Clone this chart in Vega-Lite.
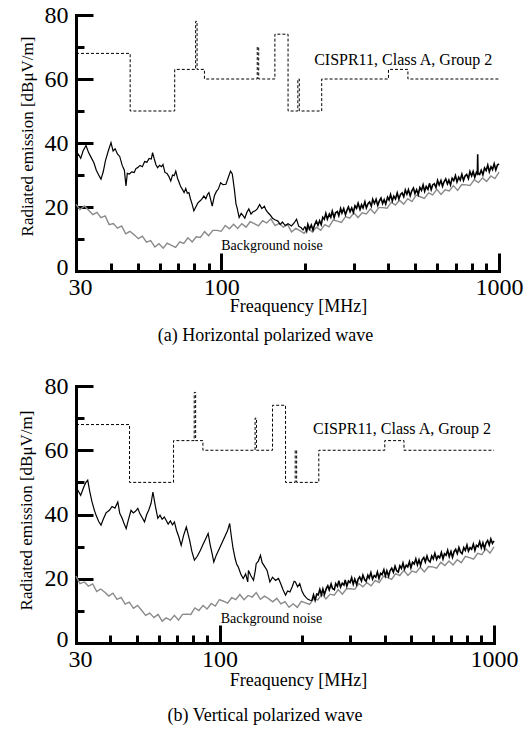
{
  "$schema": "https://vega.github.io/schema/vega-lite/v6.json",
  "padding": {"left": 16, "top": 3, "right": 5, "bottom": 5},
  "background": "white",
  "bounds": "flush",
  "spacing": 115,
  "config": {
    "view": {"stroke": null},
    "font": "Liberation Serif",
    "axis": {"grid": false, "labelFont": "Liberation Serif", "titleFont": "Liberation Serif", "labelColor": "black", "titleColor": "black", "tickColor": "black", "domainColor": "black", "titleFontWeight": "normal"},
    "title": {"font": "Liberation Serif", "fontWeight": "normal", "color": "black"}
  },
  "datasets": {
    "lim": [{"f":30,"v":68},{"f":47,"v":50},{"f":68,"v":63},{"f":80.872,"v":78},{"f":81.848,"v":63},{"f":87,"v":60},{"f":134.786,"v":70},{"f":136.414,"v":60},{"f":156,"v":74},{"f":174,"v":50},{"f":188.7,"v":60},{"f":190.979,"v":50},{"f":230,"v":60},{"f":400,"v":63},{"f":470,"v":60},{"f":1000,"v":60}],
    "ae_lo": [{"f":30,"v":35},{"f":30.6,"v":36.5},{"f":31.2,"v":35.2},{"f":31.8,"v":37.5},{"f":32.6,"v":39.2},{"f":33.3,"v":37},{"f":34,"v":35.5},{"f":34.8,"v":33.8},{"f":35.5,"v":31.5},{"f":36.2,"v":30},{"f":36.9,"v":28.7},{"f":37.6,"v":31},{"f":38.3,"v":34.5},{"f":39.2,"v":37.5},{"f":40.1,"v":40.1},{"f":40.8,"v":37.5},{"f":41.5,"v":38.2},{"f":42.3,"v":36.6},{"f":43.1,"v":35.8},{"f":44,"v":33},{"f":44.8,"v":31.5},{"f":45.4,"v":26.6},{"f":45.9,"v":30.5},{"f":46.7,"v":30.3},{"f":47.6,"v":31},{"f":48.6,"v":30.8},{"f":49.3,"v":32},{"f":50,"v":32.3},{"f":51,"v":33},{"f":52,"v":32.6},{"f":53,"v":34.2},{"f":54,"v":34},{"f":55,"v":35.2},{"f":56,"v":35},{"f":56.6,"v":37},{"f":57.4,"v":35},{"f":58.2,"v":33.2},{"f":59,"v":32.3},{"f":60,"v":33},{"f":61,"v":32.6},{"f":61.7,"v":33.3},{"f":62.7,"v":30.8},{"f":63.8,"v":30.5},{"f":64.8,"v":29.5},{"f":65.8,"v":28.1},{"f":66.8,"v":30},{"f":67.7,"v":29.8},{"f":68.6,"v":31.2},{"f":69.6,"v":29},{"f":70.6,"v":27.6},{"f":71.5,"v":26.3},{"f":72.5,"v":25.5},{"f":73.5,"v":24.5},{"f":74.5,"v":25.8},{"f":75.5,"v":24.3},{"f":76.5,"v":24.5},{"f":77.5,"v":22.5},{"f":78.6,"v":20.8},{"f":79.7,"v":18.8},{"f":81,"v":20},{"f":82.3,"v":21.2},{"f":83.6,"v":21.8},{"f":85,"v":22.4},{"f":86.6,"v":23.4},{"f":88,"v":22.6},{"f":89.3,"v":24},{"f":90.3,"v":24.5},{"f":91.5,"v":22.5},{"f":92.8,"v":20.3},{"f":94.5,"v":23.5},{"f":96,"v":24.8},{"f":97.6,"v":25.6},{"f":99.5,"v":27.6},{"f":101.5,"v":27},{"f":104,"v":27.1},{"f":106,"v":29.2},{"f":108,"v":31.2},{"f":109.6,"v":30.3},{"f":111.5,"v":25.5},{"f":113,"v":21},{"f":114,"v":19.8},{"f":116,"v":16.7},{"f":118,"v":18},{"f":120,"v":17.2},{"f":121.6,"v":16.5},{"f":123.5,"v":18.2},{"f":125.7,"v":19.4},{"f":128,"v":17.8},{"f":130,"v":18.5},{"f":132.6,"v":18.8},{"f":135,"v":19.5},{"f":137.5,"v":20.8},{"f":140,"v":19.5},{"f":143,"v":20.2},{"f":145,"v":19},{"f":147.5,"v":18.2},{"f":150,"v":17.5},{"f":153,"v":16.5},{"f":156,"v":16},{"f":160,"v":15.6},{"f":163,"v":14.5},{"f":166,"v":15.3},{"f":170,"v":14.2},{"f":174,"v":14.8},{"f":179,"v":14.1},{"f":183,"v":15},{"f":186.7,"v":16.2},{"f":190,"v":14},{"f":194,"v":13.5},{"f":197,"v":12.8},{"f":200,"v":13.9}],
    "ae_hi": [{"f":200,"v":13.9},{"f":203,"v":12.5},{"f":205,"v":14.6},{"f":208,"v":13.1},{"f":211,"v":14.4},{"f":214,"v":12.8},{"f":217,"v":14.5},{"f":220,"v":15.6},{"f":223,"v":14.3},{"f":226,"v":15.7},{"f":229,"v":14.5},{"f":232,"v":16.8},{"f":235,"v":16.2},{"f":238,"v":18},{"f":241,"v":16.2},{"f":245,"v":17.8},{"f":248,"v":16.8},{"f":251,"v":18.7},{"f":255,"v":16.7},{"f":258,"v":18.2},{"f":262,"v":18.6},{"f":265,"v":17.3},{"f":269,"v":19.5},{"f":272,"v":18.1},{"f":276,"v":19.5},{"f":280,"v":17.6},{"f":284,"v":19.1},{"f":287,"v":20},{"f":291,"v":18.5},{"f":295,"v":19.7},{"f":299,"v":18.3},{"f":303,"v":20.4},{"f":307,"v":19.6},{"f":311,"v":21.2},{"f":316,"v":19.2},{"f":320,"v":20.7},{"f":324,"v":19.7},{"f":329,"v":21.6},{"f":333,"v":19.7},{"f":338,"v":21.1},{"f":342,"v":21.6},{"f":347,"v":20.3},{"f":351,"v":22.4},{"f":356,"v":21.1},{"f":361,"v":22.4},{"f":366,"v":20.5},{"f":371,"v":21.9},{"f":376,"v":22.8},{"f":381,"v":21.1},{"f":386,"v":22.3},{"f":391,"v":20.9},{"f":397,"v":23.1},{"f":402,"v":22.2},{"f":407,"v":23.9},{"f":413,"v":21.9},{"f":418,"v":23.4},{"f":424,"v":22.5},{"f":430,"v":24.4},{"f":436,"v":22.5},{"f":442,"v":23.9},{"f":448,"v":24.4},{"f":454,"v":23.2},{"f":460,"v":25.3},{"f":466,"v":24},{"f":472,"v":25.4},{"f":479,"v":23.5},{"f":485,"v":25},{"f":492,"v":25.9},{"f":498,"v":24.2},{"f":505,"v":25.4},{"f":512,"v":23.9},{"f":519,"v":26.1},{"f":526,"v":25.2},{"f":533,"v":26.9},{"f":540,"v":24.9},{"f":547,"v":26.4},{"f":555,"v":25.5},{"f":562,"v":27.4},{"f":570,"v":25.4},{"f":577,"v":26.9},{"f":585,"v":27.3},{"f":593,"v":26.1},{"f":601,"v":28.3},{"f":609,"v":26.9},{"f":618,"v":28.3},{"f":626,"v":26.5},{"f":634,"v":27.9},{"f":643,"v":28.8},{"f":652,"v":27.2},{"f":660,"v":28.4},{"f":669,"v":26.9},{"f":678,"v":29},{"f":687,"v":28.2},{"f":697,"v":29.8},{"f":706,"v":27.8},{"f":716,"v":29.3},{"f":725,"v":28.4},{"f":735,"v":30.2},{"f":745,"v":28.3},{"f":755,"v":29.7},{"f":765,"v":30.2},{"f":776,"v":28.9},{"f":786,"v":31.1},{"f":797,"v":29.7},{"f":807,"v":31.1},{"f":818,"v":29.3},{"f":829,"v":30.8},{"f":836,"v":30.4},{"f":838,"v":36.5},{"f":840,"v":30.6},{"f":852,"v":30.2},{"f":863,"v":31.5},{"f":875,"v":30.1},{"f":887,"v":32.2},{"f":899,"v":31.4},{"f":911,"v":33.1},{"f":923,"v":31},{"f":936,"v":32.6},{"f":948,"v":31.7},{"f":961,"v":33.5},{"f":974,"v":31.6},{"f":987,"v":33.1},{"f":1000,"v":33.5}],
    "ag": [{"f":30,"v":20.8},{"f":31,"v":19.2},{"f":32.2,"v":20.3},{"f":33.3,"v":19},{"f":34.5,"v":17.6},{"f":35.7,"v":18.3},{"f":36.9,"v":16.7},{"f":38.2,"v":17.2},{"f":39.5,"v":14.5},{"f":40.9,"v":14.8},{"f":42.3,"v":13.4},{"f":43.8,"v":14.1},{"f":45.3,"v":11.6},{"f":46.9,"v":12.4},{"f":48.6,"v":11.3},{"f":50.3,"v":10.1},{"f":52,"v":10.9},{"f":53.8,"v":9},{"f":55.7,"v":9.5},{"f":57.7,"v":7.5},{"f":59.7,"v":8.5},{"f":61.8,"v":7.1},{"f":63.9,"v":8.7},{"f":66.2,"v":8},{"f":68.5,"v":7.4},{"f":70.9,"v":9.1},{"f":73.3,"v":8.6},{"f":75.9,"v":10.4},{"f":78.6,"v":9.1},{"f":81.3,"v":10.7},{"f":84.1,"v":10.5},{"f":87.1,"v":12.3},{"f":90.1,"v":11},{"f":93.3,"v":12.7},{"f":96.5,"v":12.7},{"f":99.9,"v":12.4},{"f":103.4,"v":14.2},{"f":107,"v":13.2},{"f":110.8,"v":14.6},{"f":114.6,"v":13.3},{"f":118.6,"v":14.8},{"f":122.8,"v":13.7},{"f":127.1,"v":15.4},{"f":131.5,"v":14.8},{"f":136.1,"v":14.1},{"f":140.9,"v":15.7},{"f":145.8,"v":15},{"f":150.9,"v":16.3},{"f":156.2,"v":14.2},{"f":161.7,"v":14.9},{"f":167.3,"v":13.7},{"f":173.2,"v":14.5},{"f":179.2,"v":12.2},{"f":185.5,"v":13.3},{"f":192,"v":12.6},{"f":198.7,"v":11.8},{"f":205.7,"v":13.3},{"f":212.9,"v":12.2},{"f":220.3,"v":13.7},{"f":228,"v":12.7},{"f":236,"v":14.5},{"f":244.3,"v":13.8},{"f":252.8,"v":15.9},{"f":261.7,"v":15.6},{"f":270.8,"v":15.2},{"f":280.3,"v":17},{"f":290.1,"v":16.5},{"f":300.3,"v":18.2},{"f":310.8,"v":16.7},{"f":321.6,"v":18.2},{"f":332.9,"v":17.8},{"f":344.5,"v":19.4},{"f":356.6,"v":18},{"f":369.1,"v":19.8},{"f":382,"v":19.8},{"f":395.4,"v":19.6},{"f":409.2,"v":21.5},{"f":423.5,"v":20.6},{"f":438.3,"v":22.1},{"f":453.7,"v":20.9},{"f":469.5,"v":22.6},{"f":486,"v":21.7},{"f":503,"v":23.7},{"f":520.6,"v":23.2},{"f":538.8,"v":22.7},{"f":557.7,"v":24.4},{"f":577.2,"v":23.8},{"f":597.4,"v":25.5},{"f":618.3,"v":23.9},{"f":639.9,"v":25.4},{"f":662.3,"v":25},{"f":685.5,"v":26.7},{"f":709.5,"v":25.2},{"f":734.3,"v":27},{"f":760,"v":26.9},{"f":786.6,"v":26.7},{"f":814.2,"v":28.5},{"f":842.6,"v":27.6},{"f":872.1,"v":29.1},{"f":902.6,"v":28},{"f":934.2,"v":29.7},{"f":966.9,"v":28.9},{"f":1000,"v":30.9}],
    "be_lo": [{"f":30,"v":45.5},{"f":30.5,"v":47.5},{"f":31.2,"v":46},{"f":32,"v":48.5},{"f":32.6,"v":50},{"f":33.1,"v":50.7},{"f":33.7,"v":47},{"f":34.3,"v":44},{"f":35,"v":41.3},{"f":35.6,"v":39.5},{"f":36.3,"v":37.8},{"f":37,"v":36.7},{"f":37.7,"v":38.5},{"f":38.6,"v":40.5},{"f":39.7,"v":41.3},{"f":40.6,"v":42.5},{"f":41.6,"v":42},{"f":42.6,"v":43.9},{"f":43.3,"v":40.4},{"f":44.1,"v":39},{"f":44.9,"v":37.2},{"f":45.7,"v":35.6},{"f":46.6,"v":38.5},{"f":47.6,"v":41.3},{"f":48.5,"v":40.5},{"f":49.4,"v":41},{"f":50.4,"v":41.9},{"f":51.3,"v":40.2},{"f":52.3,"v":39},{"f":53.3,"v":37.7},{"f":54.3,"v":40},{"f":55.3,"v":41.5},{"f":56.3,"v":43.5},{"f":57.2,"v":47},{"f":58.4,"v":42.5},{"f":59.6,"v":38.8},{"f":60.7,"v":39.8},{"f":61.8,"v":38.5},{"f":62.9,"v":39.2},{"f":63.9,"v":38.2},{"f":65,"v":37},{"f":66.2,"v":38},{"f":67.4,"v":36.8},{"f":68.5,"v":37.7},{"f":69.7,"v":35.1},{"f":71.1,"v":33},{"f":72.5,"v":30.4},{"f":74,"v":33.5},{"f":75.7,"v":36.1},{"f":76.8,"v":34},{"f":77.8,"v":32},{"f":79.3,"v":28.5},{"f":81,"v":25.8},{"f":83,"v":27},{"f":85.2,"v":28.9},{"f":87.2,"v":30.8},{"f":88.9,"v":32.3},{"f":90.9,"v":34.1},{"f":92.5,"v":30.5},{"f":93.9,"v":28},{"f":95.3,"v":25.2},{"f":97.5,"v":27.5},{"f":100,"v":29.5},{"f":102.5,"v":31.5},{"f":105,"v":33.5},{"f":107,"v":35},{"f":108.9,"v":37.2},{"f":110.5,"v":33},{"f":112,"v":29.5},{"f":114,"v":26.3},{"f":115.5,"v":24.5},{"f":117,"v":23.7},{"f":119.5,"v":21.5},{"f":122,"v":20.1},{"f":124.5,"v":21.5},{"f":126.7,"v":19},{"f":127.5,"v":22.6},{"f":130,"v":21},{"f":133,"v":19.5},{"f":135,"v":22.5},{"f":136,"v":24.7},{"f":138.5,"v":25.5},{"f":141,"v":27.3},{"f":143,"v":25},{"f":145.5,"v":24},{"f":149,"v":22.6},{"f":152.6,"v":19},{"f":156,"v":20.5},{"f":160,"v":19.5},{"f":164,"v":20.1},{"f":167,"v":18.5},{"f":170.5,"v":16.5},{"f":174,"v":14.9},{"f":177,"v":16.2},{"f":180.5,"v":15.9},{"f":184,"v":17.5},{"f":187,"v":19.2},{"f":189,"v":19},{"f":192.5,"v":17.5},{"f":196,"v":18.5},{"f":200,"v":16},{"f":203,"v":15},{"f":206,"v":14.3},{"f":210,"v":13.6},{"f":214,"v":13.3},{"f":217,"v":13.2}],
    "be_hi": [{"f":217,"v":13.2},{"f":220,"v":15},{"f":223,"v":13.3},{"f":226,"v":15.2},{"f":229,"v":15},{"f":232,"v":16.7},{"f":235,"v":15},{"f":238,"v":16.8},{"f":241,"v":15.1},{"f":245,"v":17},{"f":248,"v":17.8},{"f":251,"v":16.5},{"f":255,"v":18.4},{"f":258,"v":17},{"f":262,"v":16.6},{"f":265,"v":18.5},{"f":269,"v":17.6},{"f":272,"v":19.4},{"f":276,"v":17.4},{"f":280,"v":18.6},{"f":284,"v":18},{"f":287,"v":19.6},{"f":291,"v":17.7},{"f":295,"v":19.3},{"f":299,"v":18.8},{"f":303,"v":20.3},{"f":307,"v":18.3},{"f":311,"v":19.9},{"f":316,"v":18.2},{"f":320,"v":19.9},{"f":324,"v":20.6},{"f":329,"v":19.3},{"f":333,"v":21.1},{"f":338,"v":19.7},{"f":342,"v":19.2},{"f":347,"v":21.1},{"f":351,"v":20.2},{"f":356,"v":21.9},{"f":361,"v":19.9},{"f":366,"v":21},{"f":371,"v":20.5},{"f":376,"v":22.1},{"f":381,"v":20.1},{"f":386,"v":21.7},{"f":391,"v":21.3},{"f":397,"v":22.8},{"f":402,"v":20.9},{"f":407,"v":22.5},{"f":413,"v":20.8},{"f":418,"v":22.5},{"f":424,"v":23.3},{"f":430,"v":22},{"f":436,"v":23.9},{"f":442,"v":22.5},{"f":448,"v":22.1},{"f":454,"v":24},{"f":460,"v":23.2},{"f":466,"v":24.9},{"f":472,"v":23},{"f":479,"v":24.2},{"f":485,"v":23.7},{"f":492,"v":25.3},{"f":498,"v":23.4},{"f":505,"v":25.1},{"f":512,"v":24.6},{"f":519,"v":26.2},{"f":526,"v":24.3},{"f":533,"v":25.9},{"f":540,"v":24.2},{"f":547,"v":25.9},{"f":555,"v":26.6},{"f":562,"v":25.2},{"f":570,"v":27.1},{"f":577,"v":25.7},{"f":585,"v":25.2},{"f":593,"v":27.1},{"f":601,"v":26.2},{"f":609,"v":27.9},{"f":618,"v":26},{"f":626,"v":27.1},{"f":634,"v":26.5},{"f":643,"v":28.2},{"f":652,"v":26.2},{"f":660,"v":27.8},{"f":669,"v":27.3},{"f":678,"v":28.9},{"f":687,"v":26.9},{"f":697,"v":28.5},{"f":706,"v":26.7},{"f":716,"v":28.5},{"f":725,"v":29.2},{"f":735,"v":27.8},{"f":745,"v":29.7},{"f":755,"v":28.3},{"f":765,"v":27.8},{"f":776,"v":29.7},{"f":786,"v":28.8},{"f":797,"v":30.5},{"f":807,"v":28.6},{"f":818,"v":29.7},{"f":829,"v":29.2},{"f":841,"v":30.8},{"f":852,"v":28.8},{"f":863,"v":30.4},{"f":875,"v":30},{"f":887,"v":31.5},{"f":899,"v":29.6},{"f":911,"v":31.2},{"f":923,"v":29.4},{"f":936,"v":31.2},{"f":948,"v":31.9},{"f":961,"v":30.5},{"f":974,"v":32.4},{"f":987,"v":31},{"f":1000,"v":31.8}],
    "bg": [{"f":30,"v":20.8},{"f":31,"v":18.5},{"f":32.2,"v":19},{"f":33.3,"v":17.7},{"f":34.5,"v":18.4},{"f":35.7,"v":16},{"f":36.9,"v":16.8},{"f":38.2,"v":15.8},{"f":39.5,"v":14.6},{"f":40.9,"v":15.5},{"f":42.3,"v":13.6},{"f":43.8,"v":14.2},{"f":45.3,"v":12.1},{"f":46.9,"v":12.7},{"f":48.6,"v":10.8},{"f":50.3,"v":11.7},{"f":52,"v":10.2},{"f":53.8,"v":8.6},{"f":55.7,"v":9.3},{"f":57.7,"v":7.9},{"f":59.7,"v":8.9},{"f":61.8,"v":6.8},{"f":63.9,"v":7.8},{"f":66.2,"v":7.1},{"f":68.5,"v":8.6},{"f":70.9,"v":7.1},{"f":73.3,"v":8.9},{"f":75.9,"v":9},{"f":78.6,"v":8.9},{"f":81.3,"v":10.9},{"f":84.1,"v":10.1},{"f":87.1,"v":11.7},{"f":90.1,"v":10.6},{"f":93.3,"v":12.3},{"f":96.5,"v":11.5},{"f":99.9,"v":13.5},{"f":103.4,"v":13},{"f":107,"v":12.4},{"f":110.8,"v":14.1},{"f":114.6,"v":13.5},{"f":118.6,"v":15.1},{"f":122.8,"v":13.5},{"f":127.1,"v":14.8},{"f":131.5,"v":14.3},{"f":136.1,"v":15.7},{"f":140.9,"v":13.6},{"f":145.8,"v":14.6},{"f":150.9,"v":13.8},{"f":156.2,"v":12.8},{"f":161.7,"v":13.9},{"f":167.3,"v":12.2},{"f":173.2,"v":12.9},{"f":179.2,"v":11.1},{"f":185.5,"v":12.2},{"f":192,"v":11.1},{"f":198.7,"v":13},{"f":205.7,"v":12.5},{"f":212.9,"v":12},{"f":220.3,"v":13.8},{"f":228,"v":13.4},{"f":236,"v":15.2},{"f":244.3,"v":13.7},{"f":252.8,"v":15.2},{"f":261.7,"v":14.9},{"f":270.8,"v":16.6},{"f":280.3,"v":15.2},{"f":290.1,"v":16.9},{"f":300.3,"v":16.9},{"f":310.8,"v":16.7},{"f":321.6,"v":18.5},{"f":332.9,"v":17.5},{"f":344.5,"v":18.8},{"f":356.6,"v":17.8},{"f":369.1,"v":19.5},{"f":382,"v":18.8},{"f":395.4,"v":20.8},{"f":409.2,"v":20.4},{"f":423.5,"v":19.8},{"f":438.3,"v":21.6},{"f":453.7,"v":21},{"f":469.5,"v":22.6},{"f":486,"v":21},{"f":503,"v":22.4},{"f":520.6,"v":22},{"f":538.8,"v":23.6},{"f":557.7,"v":22.1},{"f":577.2,"v":23.8},{"f":597.4,"v":23.7},{"f":618.3,"v":23.3},{"f":639.9,"v":25.1},{"f":662.3,"v":24.1},{"f":685.5,"v":25.5},{"f":709.5,"v":24.3},{"f":734.3,"v":25.9},{"f":760,"v":25},{"f":786.6,"v":27},{"f":814.2,"v":26.6},{"f":842.6,"v":26.1},{"f":872.1,"v":27.9},{"f":902.6,"v":27.5},{"f":934.2,"v":29.3},{"f":966.9,"v":28},{"f":1000,"v":29.9}]
  },
  "vconcat": [
    {
      "width": 423,
      "height": 256,
      "title": {"text": "(a) Horizontal polarized wave", "orient": "bottom", "fontSize": 18, "fontWeight": "normal", "font": "Liberation Serif", "color": "black", "dx": -22, "offset": 12},
      "resolve": {"axis": {"x": "independent", "y": "independent"}},
      "layer": [
        {
          "data": {"name": "lim"},
          "mark": {"type": "line", "interpolate": "step-after", "strokeDash": [3, 2], "strokeWidth": 1, "color": "black"},
          "encoding": {
            "x": {"field": "f", "type": "quantitative", "scale": {"type": "log", "domain": [30, 1000], "nice": false},
                  "axis": {"orient": "bottom", "values": [30, 100, 1000], "format": "d", "ticks": false, "domainWidth": 3, "domainCap": "square", "labelFontSize": 24, "labelPadding": 4, "labelFlush": false, "labelOverlap": false, "labelOffset": {"condition": {"test": "datum.value === 30", "value": 4}, "value": 0}, "title": "Freaquency [MHz]", "titleFontSize": 18, "titleX": 222, "titleY": 35, "titleAlign": "center", "titleBaseline": "middle"}},
            "y": {"field": "v", "type": "quantitative", "scale": {"domain": [0, 80], "nice": false},
                  "axis": {"orient": "left", "values": [0, 20, 40, 60, 80], "ticks": false, "domainWidth": 3, "domainCap": "square", "labelFontSize": 24, "labelPadding": 8, "labelFlush": false, "labelOverlap": false, "labelOffset": {"condition": {"test": "datum.value === 0", "value": -4}, "value": 0}, "title": "Radiated emission [dBμV/m]", "titleFontSize": 17, "titleX": -49, "titleY": 121, "titleAngle": 270, "titleAlign": "center", "titleBaseline": "middle"}}
          }
        },
        {
          "data": {"name": "ag"},
          "mark": {"type": "line", "color": "#8a8a8a", "strokeWidth": 1.4},
          "encoding": {
            "x": {"field": "f", "type": "quantitative", "axis": {"orient": "bottom", "values": [40, 50, 60, 70, 80, 90, 200, 300, 400, 500, 600, 700, 800, 900], "domain": false, "labels": false, "title": null, "tickSize": -8, "tickWidth": 3}},
            "y": {"field": "v", "type": "quantitative", "axis": {"orient": "left", "values": [10, 30, 50, 70], "domain": false, "labels": false, "title": null, "tickSize": -8, "tickWidth": 3}}
          }
        },
        {
          "data": {"name": "ae_lo"},
          "mark": {"type": "line", "color": "black", "strokeWidth": 1.2},
          "encoding": {
            "x": {"field": "f", "type": "quantitative", "axis": {"orient": "bottom", "values": [100, 1000], "domain": false, "labels": false, "title": null, "tickSize": -18, "tickWidth": 3}},
            "y": {"field": "v", "type": "quantitative", "axis": {"orient": "left", "values": [20, 40, 60, 80], "domain": false, "labels": false, "title": null, "tickSize": -17, "tickWidth": 3}}
          }
        },
        {
          "data": {"name": "ae_hi"},
          "mark": {"type": "line", "color": "black", "strokeWidth": 1.6},
          "encoding": {
            "x": {"field": "f", "type": "quantitative", "axis": null},
            "y": {"field": "v", "type": "quantitative", "axis": null}
          }
        },
        {
          "data": {"values": [{}]},
          "mark": {"type": "text", "align": "left", "baseline": "middle", "fontSize": 16, "font": "Liberation Serif", "color": "black"},
          "encoding": {
            "x": {"datum": 216, "type": "quantitative", "axis": null},
            "y": {"datum": 66, "type": "quantitative", "axis": null},
            "text": {"value": "CISPR11, Class A, Group 2"}
          }
        },
        {
          "data": {"values": [{}]},
          "mark": {"type": "text", "align": "left", "baseline": "middle", "fontSize": 14, "font": "Liberation Serif", "color": "black"},
          "encoding": {
            "x": {"datum": 100, "type": "quantitative", "axis": null},
            "y": {"datum": 7.8, "type": "quantitative", "axis": null},
            "text": {"value": "Background noise"}
          }
        }
      ]
    },
    {
      "width": 418,
      "height": 257,
      "title": {"text": "(b) Vertical polarized wave", "orient": "bottom", "fontSize": 18, "fontWeight": "normal", "font": "Liberation Serif", "color": "black", "dx": -20, "offset": 18},
      "resolve": {"axis": {"x": "independent", "y": "independent"}},
      "layer": [
        {
          "data": {"name": "lim"},
          "mark": {"type": "line", "interpolate": "step-after", "strokeDash": [3, 2], "strokeWidth": 1, "color": "black"},
          "encoding": {
            "x": {"field": "f", "type": "quantitative", "scale": {"type": "log", "domain": [30, 1000], "nice": false},
                  "axis": {"orient": "bottom", "values": [30, 100, 1000], "format": "d", "ticks": false, "domainWidth": 3, "domainCap": "square", "labelFontSize": 24, "labelPadding": 4, "labelFlush": false, "labelOverlap": false, "labelOffset": {"condition": {"test": "datum.value === 30", "value": 4}, "value": 0}, "title": "Freaquency [MHz]", "titleFontSize": 18, "titleX": 222, "titleY": 37, "titleAlign": "center", "titleBaseline": "middle"}},
            "y": {"field": "v", "type": "quantitative", "scale": {"domain": [0, 80], "nice": false},
                  "axis": {"orient": "left", "values": [0, 20, 40, 60, 80], "ticks": false, "domainWidth": 3, "domainCap": "square", "labelFontSize": 24, "labelPadding": 8, "labelFlush": false, "labelOverlap": false, "labelOffset": {"condition": {"test": "datum.value === 0", "value": -4}, "value": 0}, "title": "Radiated emission [dBμV/m]", "titleFontSize": 17, "titleX": -50, "titleY": 124, "titleAngle": 270, "titleAlign": "center", "titleBaseline": "middle"}}
          }
        },
        {
          "data": {"name": "bg"},
          "mark": {"type": "line", "color": "#8a8a8a", "strokeWidth": 1.4},
          "encoding": {
            "x": {"field": "f", "type": "quantitative", "axis": {"orient": "bottom", "values": [40, 50, 60, 70, 80, 90, 200, 300, 400, 500, 600, 700, 800, 900], "domain": false, "labels": false, "title": null, "tickSize": -8, "tickWidth": 3}},
            "y": {"field": "v", "type": "quantitative", "axis": {"orient": "left", "values": [10, 30, 50, 70], "domain": false, "labels": false, "title": null, "tickSize": -8, "tickWidth": 3}}
          }
        },
        {
          "data": {"name": "be_lo"},
          "mark": {"type": "line", "color": "black", "strokeWidth": 1.2},
          "encoding": {
            "x": {"field": "f", "type": "quantitative", "axis": {"orient": "bottom", "values": [100, 1000], "domain": false, "labels": false, "title": null, "tickSize": -18, "tickWidth": 3}},
            "y": {"field": "v", "type": "quantitative", "axis": {"orient": "left", "values": [20, 40, 60, 80], "domain": false, "labels": false, "title": null, "tickSize": -17, "tickWidth": 3}}
          }
        },
        {
          "data": {"name": "be_hi"},
          "mark": {"type": "line", "color": "black", "strokeWidth": 1.6},
          "encoding": {
            "x": {"field": "f", "type": "quantitative", "axis": null},
            "y": {"field": "v", "type": "quantitative", "axis": null}
          }
        },
        {
          "data": {"values": [{}]},
          "mark": {"type": "text", "align": "left", "baseline": "middle", "fontSize": 16, "font": "Liberation Serif", "color": "black"},
          "encoding": {
            "x": {"datum": 219, "type": "quantitative", "axis": null},
            "y": {"datum": 66.6, "type": "quantitative", "axis": null},
            "text": {"value": "CISPR11, Class A, Group 2"}
          }
        },
        {
          "data": {"values": [{}]},
          "mark": {"type": "text", "align": "left", "baseline": "middle", "fontSize": 14, "font": "Liberation Serif", "color": "black"},
          "encoding": {
            "x": {"datum": 101, "type": "quantitative", "axis": null},
            "y": {"datum": 7.4, "type": "quantitative", "axis": null},
            "text": {"value": "Background noise"}
          }
        }
      ]
    }
  ]
}
